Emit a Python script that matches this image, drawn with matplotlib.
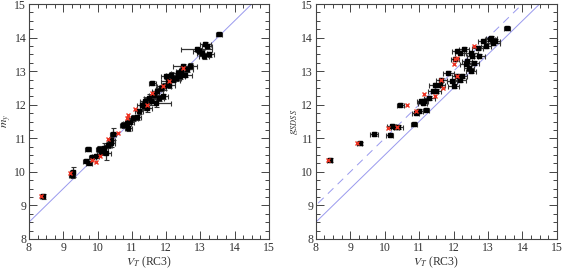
import matplotlib
matplotlib.use("Agg")
import matplotlib.pyplot as plt
from matplotlib.ticker import MultipleLocator
import numpy as np

plt.rcParams['font.family'] = ['Liberation Serif', 'DejaVu Serif']
plt.rcParams['mathtext.fontset'] = 'stix'

# Left panel: V_T (RC3) vs m_y
left_vt = [8.40, 9.25, 9.27, 9.65, 9.72, 9.75, 9.85, 9.95, 10.05, 10.10, 10.20, 10.25,
           10.30, 10.40, 10.45, 10.40, 10.75, 10.85, 10.90, 10.95, 11.05, 11.15, 11.20,
           11.30, 11.35, 11.40, 11.45, 11.50, 11.55, 11.60, 11.65, 11.70, 11.75, 11.80,
           11.90, 11.85, 11.95, 12.00, 12.05, 12.10, 12.15, 12.20, 12.30, 12.35, 12.40,
           12.45, 12.50, 12.55, 12.60, 12.70, 12.90, 12.95, 13.05, 13.10, 13.15, 13.20,
           13.25, 13.55]
left_my = [9.27, 9.92, 10.00, 10.33, 10.68, 10.27, 10.45, 10.47, 10.68, 10.60, 10.70, 10.55,
           10.80, 10.85, 11.13, 10.95, 11.40, 11.45, 11.30, 11.50, 11.60, 11.62, 11.80,
           12.00, 11.95, 12.10, 11.90, 12.20, 12.10, 12.65, 12.30, 12.05, 12.40, 12.20,
           12.25, 12.50, 12.55, 12.85, 12.70, 12.60, 12.90, 12.75, 12.80, 12.95, 12.85,
           13.00, 13.15, 12.90, 13.05, 13.15, 13.65, 13.60, 13.55, 13.45, 13.80, 13.75,
           13.50, 14.10]
left_xerr = [0.08, 0.08, 0.08, 0.08, 0.08, 0.08, 0.10, 0.10, 0.10, 0.12, 0.12, 0.15,
             0.12, 0.12, 0.10, 0.10, 0.10, 0.12, 0.10, 0.12, 0.12, 0.12, 0.12,
             0.15, 0.12, 0.15, 0.15, 0.15, 0.15, 0.10, 0.15, 0.45, 0.15, 0.15,
             0.15, 0.15, 0.20, 0.15, 0.20, 0.15, 0.15, 0.20, 0.15, 0.20, 0.15,
             0.15, 0.30, 0.20, 0.20, 0.20, 0.45, 0.15, 0.15, 0.15, 0.15, 0.15,
             0.15, 0.08]
left_yerr = [0.08, 0.10, 0.15, 0.05, 0.05, 0.05, 0.05, 0.05, 0.10, 0.10, 0.15, 0.20,
             0.10, 0.10, 0.18, 0.10, 0.08, 0.08, 0.08, 0.08, 0.08, 0.08, 0.08,
             0.12, 0.12, 0.12, 0.12, 0.12, 0.12, 0.06, 0.12, 0.12, 0.10, 0.10,
             0.08, 0.10, 0.10, 0.08, 0.10, 0.10, 0.08, 0.08, 0.08, 0.08, 0.08,
             0.08, 0.06, 0.08, 0.08, 0.08, 0.08, 0.08, 0.08, 0.08, 0.06, 0.06,
             0.08, 0.04]
left_red_vt = [8.35, 9.20, 9.85, 9.97, 10.08, 10.30, 10.60, 10.85, 10.90, 11.10, 11.45,
               11.60, 11.90, 12.10, 12.50]
left_red_my = [9.27, 9.98, 10.35, 10.28, 10.47, 10.97, 11.15, 11.60, 11.68, 11.87, 12.00,
               12.35, 12.55, 12.70, 13.10]

# Right panel: V_T (RC3) vs g_SDSS
right_vt = [8.40, 9.27, 9.70, 10.15, 10.20, 10.30, 10.40, 10.45, 10.85, 10.90, 11.00,
            11.10, 11.15, 11.20, 11.05, 11.30, 11.40, 11.50, 11.45, 11.60, 11.65,
            11.85, 11.95, 12.00, 12.10, 12.05, 12.10, 12.20, 12.30, 12.35, 12.40,
            12.45, 12.50, 12.55, 12.70, 12.75, 12.85, 12.95, 13.05, 13.10, 13.15,
            13.20, 13.55, 12.25, 12.60, 12.50, 12.20]
right_g = [10.35, 10.85, 11.13, 11.10, 11.37, 11.35, 11.35, 11.98, 11.42, 11.75, 11.80,
           12.05, 12.10, 11.85, 12.10, 12.20, 12.40, 12.40, 12.60, 12.60, 12.75,
           12.95, 12.70, 12.55, 12.85, 13.35, 13.60, 13.55, 13.65, 13.20, 13.30,
           13.10, 13.00, 13.45, 13.70, 13.45, 13.90, 13.75, 13.95, 14.00, 13.85,
           13.90, 14.28, 12.85, 13.25, 13.55, 12.75]
right_xerr = [0.08, 0.08, 0.12, 0.10, 0.12, 0.12, 0.12, 0.10, 0.10, 0.10, 0.10,
              0.12, 0.12, 0.10, 0.12, 0.15, 0.15, 0.15, 0.15, 0.15, 0.15,
              0.15, 0.15, 0.15, 0.15, 0.12, 0.15, 0.15, 0.15, 0.15, 0.15,
              0.15, 0.15, 0.15, 0.15, 0.15, 0.15, 0.15, 0.15, 0.15, 0.20,
              0.15, 0.08, 0.15, 0.15, 0.20, 0.15]
right_yerr = [0.05, 0.05, 0.05, 0.05, 0.06, 0.06, 0.06, 0.06, 0.05, 0.06, 0.06,
              0.06, 0.06, 0.05, 0.06, 0.06, 0.06, 0.06, 0.06, 0.06, 0.06,
              0.06, 0.06, 0.06, 0.06, 0.06, 0.06, 0.06, 0.06, 0.06, 0.06,
              0.06, 0.06, 0.06, 0.06, 0.06, 0.06, 0.06, 0.06, 0.06, 0.06,
              0.06, 0.05, 0.06, 0.06, 0.06, 0.06]
right_red_vt = [8.35, 9.20, 10.10, 10.35, 10.65, 10.90, 11.15, 11.45, 11.70, 11.65,
                12.00, 12.05, 12.10, 12.60, 12.10]
right_red_g = [10.35, 10.85, 11.32, 11.35, 11.98, 11.82, 12.33, 12.25, 12.50, 12.75,
               13.20, 13.35, 13.40, 13.75, 12.85]

ticks = [8, 9, 10, 11, 12, 13, 14, 15]
offset_solid = 0.5
offset_dashed = 1.0

fig = plt.figure(figsize=(5.63, 2.70), dpi=100)
axL = fig.add_axes([0.0515, 0.115, 0.426, 0.87])
axR = fig.add_axes([0.561, 0.115, 0.428, 0.87])

line_x = np.array([7.5, 15])

def style(ax):
    ax.set_xlim(8, 15)
    ax.set_ylim(8, 15)
    ax.set_xticks(ticks)
    ax.set_yticks(ticks)
    ax.xaxis.set_minor_locator(MultipleLocator(0.25))
    ax.yaxis.set_minor_locator(MultipleLocator(0.25))
    ax.tick_params(which='both', direction='in', top=True, right=True, labelsize=8.5,
                   width=0.7, colors='#444444', labelcolor='#333333', pad=2)
    ax.tick_params(which='major', length=6)
    ax.tick_params(which='minor', length=3)
    for s in ax.spines.values():
        s.set_color('#444444')
        s.set_linewidth(0.8)
    ax.set_xlabel(r'$V_T$ (RC3)', fontsize=8.5, labelpad=0.5, color='#333333')

# Left
axL.plot(line_x, line_x + offset_solid, color='#9999ee', lw=0.7, zorder=1)
axL.errorbar(left_vt, left_my, xerr=left_xerr, yerr=left_yerr, fmt='s', ms=2.8,
             color='black', ecolor='#333333', elinewidth=0.9, capsize=1.8,
             capthick=0.8, zorder=3)
axL.plot(left_red_vt, left_red_my, 'x', color='#ee3322', ms=3.5, mew=1.0, zorder=4)
style(axL)
axL.set_ylabel(r'$m_y$', fontsize=8.5, labelpad=0.5, color='#333333')

# Right
axR.plot(line_x, line_x + offset_solid, color='#9999ee', lw=0.7, zorder=1)
axR.plot(line_x, line_x + offset_dashed, color='#9999ee', lw=0.7, ls=(0, (8, 6)), zorder=1)
axR.errorbar(right_vt, right_g, xerr=right_xerr, yerr=right_yerr, fmt='s', ms=2.8,
             color='black', ecolor='#333333', elinewidth=0.9, capsize=1.8,
             capthick=0.8, zorder=3)
axR.plot(right_red_vt, right_red_g, 'x', color='#ee3322', ms=3.5, mew=1.0, zorder=4)
style(axR)
axR.set_ylabel(r'$g_{SDSS}$', fontsize=8.5, labelpad=1, color='#333333')

fig.savefig('out.png', dpi=100)
